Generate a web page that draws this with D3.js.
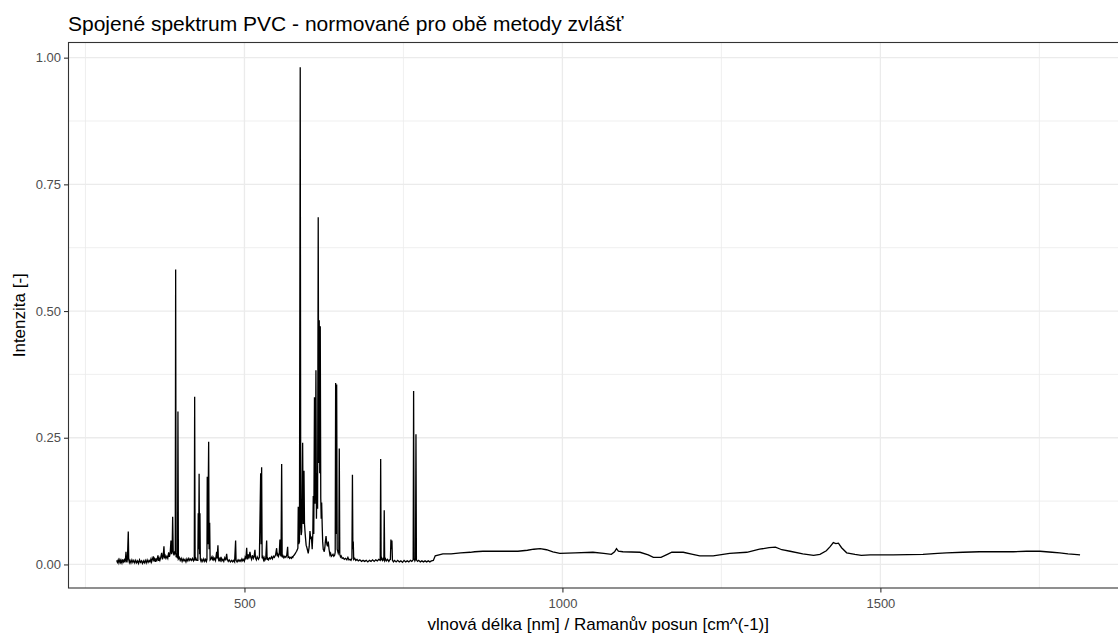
<!DOCTYPE html>
<html>
<head>
<meta charset="utf-8">
<script src="https://cdn.jsdelivr.net/npm/d3@7"></script>
<style>
  body { margin: 0; background: #fff; }
  svg { display: block; font-family: "Liberation Sans", Arial, sans-serif; }
</style>
</head>
<body>
<div id="chart"></div>
<script>
// LIBS cast - vlnova delka [nm], intenzita
var libs = [
  [299.0, 0.008], [300.2, 0.004], [301.5, 0.009], [302.6, 0.003], [304.0, 0.009], [305.2, 0.004],
  [306.0, 0.008], [307.3, 0.003], [308.5, 0.010], [309.6, 0.005], [311.0, 0.009], [312.1, 0.004],
  [313.0, 0.012], [313.7, 0.025], [314.4, 0.008], [315.2, 0.004], [316.0, 0.012], [317.3, 0.065],
  [318.0, 0.010], [319.0, 0.004], [320.0, 0.008], [321.5, 0.003], [323.0, 0.009], [324.5, 0.004],
  [326.0, 0.008], [327.5, 0.003], [329.0, 0.008], [330.5, 0.003], [332.0, 0.007], [333.5, 0.002],
  [335.0, 0.009], [336.5, 0.004], [338.0, 0.007], [339.5, 0.002], [341.0, 0.007], [342.5, 0.003],
  [344.0, 0.008], [345.5, 0.003], [347.0, 0.009], [348.5, 0.004], [350.0, 0.008], [351.5, 0.005],
  [353.0, 0.011], [354.0, 0.005], [355.0, 0.009], [356.6, 0.016], [357.5, 0.006], [358.7, 0.011],
  [360.0, 0.005], [361.0, 0.012], [362.0, 0.006], [364.0, 0.018], [365.0, 0.007], [366.0, 0.012],
  [367.0, 0.008], [368.4, 0.014], [369.8, 0.023], [371.0, 0.010], [372.2, 0.016], [373.4, 0.036],
  [374.3, 0.012], [375.4, 0.017], [376.6, 0.012], [378.0, 0.016], [379.4, 0.012], [380.8, 0.024],
  [382.0, 0.015], [383.2, 0.022], [384.4, 0.047], [385.5, 0.020], [386.3, 0.030], [387.1, 0.094],
  [388.0, 0.024], [389.2, 0.018], [390.2, 0.026], [391.2, 0.020], [391.8, 0.582], [392.5, 0.014],
  [393.6, 0.018], [394.8, 0.012], [395.4, 0.302], [396.1, 0.011], [397.5, 0.014], [399.0, 0.008],
  [400.5, 0.012], [402.0, 0.006], [403.5, 0.011], [405.0, 0.007], [406.5, 0.010], [408.0, 0.005],
  [409.5, 0.011], [411.0, 0.007], [412.5, 0.012], [414.0, 0.008], [415.5, 0.011], [417.0, 0.008],
  [418.5, 0.012], [420.0, 0.007], [421.1, 0.010], [421.7, 0.331], [422.4, 0.008], [423.7, 0.012],
  [425.0, 0.008], [426.7, 0.008], [427.3, 0.101], [428.0, 0.030], [428.7, 0.179], [429.4, 0.020],
  [430.0, 0.101], [430.6, 0.010], [431.8, 0.006], [433.0, 0.010], [434.5, 0.006], [436.0, 0.011],
  [437.5, 0.006], [439.0, 0.010], [440.2, 0.006], [441.0, 0.010], [441.5, 0.173], [442.3, 0.040],
  [443.7, 0.242], [444.4, 0.030], [445.3, 0.082], [446.0, 0.009], [447.3, 0.011], [448.9, 0.015],
  [450.0, 0.008], [451.0, 0.013], [452.0, 0.009], [453.2, 0.012], [454.5, 0.008], [456.3, 0.025],
  [457.0, 0.012], [458.3, 0.038], [459.0, 0.011], [460.0, 0.006], [461.0, 0.011], [462.0, 0.008],
  [463.1, 0.015], [464.5, 0.007], [466.0, 0.010], [467.5, 0.006], [469.0, 0.013], [470.5, 0.008],
  [472.0, 0.021], [473.0, 0.010], [474.5, 0.006], [476.0, 0.009], [478.0, 0.005], [480.0, 0.008],
  [481.5, 0.005], [483.0, 0.008], [484.5, 0.005], [486.1, 0.047], [486.8, 0.008], [488.4, 0.005],
  [490.0, 0.009], [491.5, 0.006], [493.0, 0.009], [494.5, 0.006], [496.0, 0.011], [497.5, 0.007],
  [499.0, 0.010], [500.0, 0.007], [501.0, 0.014], [502.2, 0.010], [503.5, 0.033], [504.2, 0.014],
  [505.0, 0.010], [506.0, 0.020], [507.2, 0.012], [508.6, 0.025], [510.0, 0.014], [511.2, 0.010],
  [512.5, 0.018], [514.0, 0.012], [515.2, 0.016], [516.5, 0.029], [517.3, 0.013], [518.7, 0.009],
  [520.0, 0.015], [522.0, 0.010], [523.5, 0.014], [525.5, 0.180], [526.3, 0.040], [527.0, 0.192],
  [527.8, 0.012], [529.0, 0.015], [530.0, 0.009], [531.0, 0.013], [532.0, 0.008], [533.5, 0.012],
  [534.9, 0.047], [535.6, 0.009], [536.8, 0.012], [538.0, 0.009], [539.5, 0.013], [541.0, 0.011],
  [542.5, 0.015], [544.0, 0.011], [545.5, 0.016], [547.0, 0.014], [549.0, 0.019], [550.6, 0.032],
  [551.5, 0.016], [552.5, 0.020], [553.5, 0.016], [554.7, 0.021], [555.8, 0.049], [556.6, 0.020],
  [557.5, 0.016], [558.5, 0.198], [559.3, 0.014], [560.6, 0.017], [562.0, 0.013], [563.5, 0.016],
  [565.0, 0.014], [566.5, 0.018], [567.9, 0.035], [568.6, 0.014], [570.0, 0.015], [571.0, 0.012],
  [572.5, 0.014], [574.0, 0.012], [575.0, 0.015], [576.0, 0.014], [577.0, 0.017], [578.0, 0.018],
  [579.0, 0.020], [580.0, 0.022], [581.0, 0.024], [582.0, 0.026], [583.0, 0.029], [584.0, 0.032],
  [584.6, 0.114], [585.3, 0.040], [586.5, 0.045], [587.7, 0.981], [588.5, 0.075], [589.2, 0.058],
  [590.0, 0.065], [591.5, 0.240], [592.3, 0.080], [593.6, 0.185], [594.4, 0.080], [595.5, 0.060],
  [596.3, 0.048], [597.0, 0.038], [598.0, 0.034], [598.8, 0.030], [599.6, 0.026], [600.3, 0.022],
  [601.0, 0.028], [601.8, 0.035], [602.4, 0.048], [603.0, 0.066], [604.2, 0.050], [605.3, 0.055],
  [606.0, 0.040], [606.5, 0.030], [607.5, 0.060], [608.2, 0.135], [609.0, 0.060], [610.1, 0.330],
  [610.9, 0.120], [611.5, 0.160], [612.4, 0.383], [613.2, 0.090], [614.2, 0.180], [615.0, 0.110],
  [616.0, 0.685], [616.8, 0.200], [617.6, 0.482], [618.4, 0.180], [619.2, 0.470], [620.0, 0.130],
  [620.7, 0.090], [621.4, 0.122], [622.3, 0.074], [623.0, 0.045], [623.9, 0.030], [624.7, 0.028],
  [625.5, 0.025], [626.4, 0.033], [627.2, 0.045], [628.3, 0.056], [629.5, 0.040], [630.6, 0.036],
  [631.8, 0.045], [633.0, 0.030], [634.4, 0.019], [635.5, 0.022], [636.5, 0.016], [638.0, 0.018],
  [639.2, 0.020], [640.5, 0.016], [641.8, 0.018], [642.7, 0.024], [643.4, 0.358], [644.2, 0.060],
  [645.0, 0.355], [645.8, 0.030], [646.7, 0.026], [647.5, 0.022], [648.4, 0.026], [649.1, 0.229],
  [649.9, 0.020], [651.0, 0.015], [652.0, 0.017], [653.7, 0.012], [655.3, 0.013], [657.0, 0.010],
  [659.0, 0.012], [661.0, 0.009], [662.7, 0.014], [664.3, 0.009], [666.0, 0.010], [667.5, 0.008],
  [669.0, 0.012], [669.8, 0.177], [670.5, 0.030], [671.1, 0.045], [671.8, 0.010], [673.4, 0.012],
  [675.0, 0.008], [677.0, 0.010], [679.0, 0.007], [681.5, 0.009], [684.0, 0.006], [686.5, 0.008],
  [689.0, 0.006], [691.5, 0.008], [694.0, 0.005], [696.5, 0.008], [699.0, 0.006], [701.5, 0.009],
  [704.0, 0.006], [706.5, 0.009], [709.0, 0.007], [711.2, 0.010], [713.5, 0.008], [714.2, 0.208],
  [714.9, 0.009], [716.0, 0.012], [717.0, 0.008], [718.2, 0.011], [719.2, 0.008], [719.8, 0.107],
  [720.5, 0.008], [721.8, 0.011], [723.0, 0.007], [725.0, 0.010], [727.0, 0.006], [728.3, 0.009],
  [729.5, 0.010], [730.3, 0.049], [731.1, 0.030], [731.9, 0.047], [732.7, 0.008], [734.3, 0.005],
  [736.0, 0.008], [738.5, 0.005], [741.0, 0.008], [743.5, 0.005], [746.0, 0.007], [748.5, 0.004],
  [751.0, 0.008], [753.5, 0.005], [756.0, 0.007], [758.5, 0.005], [761.0, 0.008], [763.2, 0.006],
  [765.3, 0.009], [766.0, 0.342], [766.8, 0.012], [768.0, 0.007], [769.0, 0.010], [769.7, 0.257],
  [770.4, 0.009], [772.2, 0.006], [774.0, 0.008], [776.5, 0.005], [779.0, 0.007], [781.5, 0.005],
  [784.0, 0.007], [786.5, 0.005], [789.0, 0.007], [791.5, 0.005], [794.0, 0.007], [797.0, 0.008]
];

// Raman cast - Ramanuv posun [cm^-1], intenzita
var raman = [
  [800, 0.017], [806, 0.019], [812, 0.021], [825, 0.021], [840, 0.023], [855, 0.024], [862, 0.025],
  [875, 0.026], [900, 0.026], [930, 0.026], [945, 0.028], [955, 0.030], [965, 0.031], [975, 0.029],
  [985, 0.025], [996, 0.022], [1020, 0.023], [1048, 0.024], [1065, 0.022], [1077, 0.020], [1082, 0.025],
  [1085, 0.031], [1088, 0.026], [1095, 0.025], [1122, 0.024], [1135, 0.019], [1143, 0.014], [1155, 0.014],
  [1165, 0.020], [1172, 0.024], [1190, 0.024], [1205, 0.020], [1216, 0.017], [1237, 0.017], [1263, 0.022],
  [1290, 0.024], [1310, 0.030], [1325, 0.033], [1335, 0.034], [1345, 0.029], [1358, 0.026], [1378, 0.021],
  [1395, 0.018], [1405, 0.020], [1415, 0.027], [1421, 0.035], [1426, 0.043], [1430, 0.041], [1434, 0.042],
  [1439, 0.033], [1447, 0.023], [1460, 0.020], [1470, 0.018], [1484, 0.019], [1520, 0.019], [1567, 0.020],
  [1590, 0.022], [1604, 0.023], [1630, 0.024], [1656, 0.025], [1680, 0.025], [1709, 0.025], [1730, 0.026],
  [1751, 0.026], [1770, 0.024], [1782, 0.023], [1795, 0.021], [1805, 0.020], [1814, 0.019]
];

var xTicks = [500, 1000, 1500];
var xMinor = [250, 750, 1250, 1750];
var yTicks = [0, 0.25, 0.5, 0.75, 1];
var yMinor = [0.125, 0.375, 0.625, 0.875];

var W = 1118, H = 634;
var panel = { left: 68.5, right: 1128, top: 42.5, bottom: 588 };

var x = d3.scaleLinear().domain([223.3, 1889.4]).range([panel.left, panel.right]);
var y = d3.scaleLinear().domain([-0.0465, 1.0299]).range([panel.bottom, panel.top]);

var svg = d3.select("#chart").append("svg")
    .attr("width", W)
    .attr("height", H);

// title
svg.append("text")
    .attr("x", 68)
    .attr("y", 31)
    .attr("font-size", 21)
    .attr("fill", "#000")
    .text("Spojené spektrum PVC - normované pro obě metody zvlášť");

// mrizka
var grid = svg.append("g");
grid.selectAll(".ymin").data(yMinor).enter().append("line")
    .attr("x1", panel.left).attr("x2", panel.right)
    .attr("y1", function (d) { return y(d); }).attr("y2", function (d) { return y(d); })
    .attr("stroke", "#EBEBEB").attr("stroke-width", 0.8);
grid.selectAll(".xmin").data(xMinor).enter().append("line")
    .attr("y1", panel.top).attr("y2", panel.bottom)
    .attr("x1", function (d) { return x(d); }).attr("x2", function (d) { return x(d); })
    .attr("stroke", "#EBEBEB").attr("stroke-width", 0.8);
grid.selectAll(".ymaj").data(yTicks).enter().append("line")
    .attr("x1", panel.left).attr("x2", panel.right)
    .attr("y1", function (d) { return y(d); }).attr("y2", function (d) { return y(d); })
    .attr("stroke", "#EBEBEB").attr("stroke-width", 1.3);
grid.selectAll(".xmaj").data(xTicks).enter().append("line")
    .attr("y1", panel.top).attr("y2", panel.bottom)
    .attr("x1", function (d) { return x(d); }).attr("x2", function (d) { return x(d); })
    .attr("stroke", "#EBEBEB").attr("stroke-width", 1.3);

// spektrum - jedna cara, LIBS a Raman za sebou
var all = libs.concat(raman);
svg.append("clipPath").attr("id", "clip").append("rect")
    .attr("x", panel.left).attr("y", panel.top)
    .attr("width", panel.right - panel.left).attr("height", panel.bottom - panel.top);

svg.append("path")
    .datum(all)
    .attr("clip-path", "url(#clip)")
    .attr("fill", "none")
    .attr("stroke", "#000")
    .attr("stroke-width", 1.3)
    .attr("d", d3.line()
        .x(function (d) { return x(d[0]); })
        .y(function (d) { return y(d[1]); }));

// ramecek panelu
svg.append("rect")
    .attr("x", panel.left).attr("y", panel.top)
    .attr("width", panel.right - panel.left).attr("height", panel.bottom - panel.top)
    .attr("fill", "none").attr("stroke", "#333").attr("stroke-width", 1.1);

// osy
var gx = svg.append("g")
    .attr("transform", "translate(0," + panel.bottom + ")")
    .call(d3.axisBottom(x).tickValues(xTicks).tickFormat(d3.format("d")).tickSize(4.5).tickPadding(6));
var gy = svg.append("g")
    .attr("transform", "translate(" + panel.left + ",0)")
    .call(d3.axisLeft(y).tickValues(yTicks).tickFormat(d3.format(".2f")).tickSize(4.5).tickPadding(3));

[gx, gy].forEach(function (g) {
    g.select(".domain").remove();
    g.selectAll(".tick line").attr("stroke", "#333").attr("stroke-width", 1.1);
    g.selectAll(".tick text")
        .attr("fill", "#4D4D4D")
        .attr("font-size", 13)
        .attr("font-family", "Liberation Sans, Arial, sans-serif");
});

// popisky os
svg.append("text")
    .attr("x", (panel.left + panel.right) / 2)
    .attr("y", 630)
    .attr("text-anchor", "middle")
    .attr("font-size", 17)
    .text("vlnová délka [nm] / Ramanův posun [cm^(-1)]");

svg.append("text")
    .attr("transform", "translate(25," + ((panel.top + panel.bottom) / 2) + ") rotate(-90)")
    .attr("text-anchor", "middle")
    .attr("font-size", 17)
    .text("Intenzita [-]");
</script>
</body>
</html>
